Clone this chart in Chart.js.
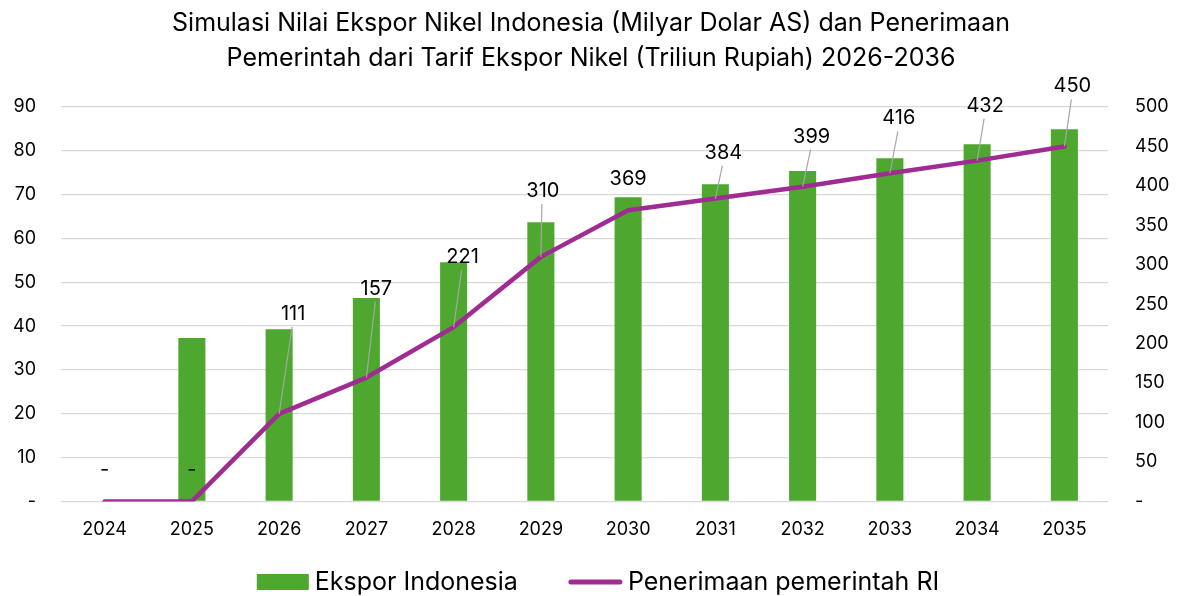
<!DOCTYPE html>
<html>
<head>
<meta charset="utf-8">
<script src="https://cdn.jsdelivr.net/npm/chart.js@4/dist/chart.umd.min.js"></script>
<style>
  html, body { margin: 0; padding: 0; background: #fff; }
  #wrap { width: 1180px; height: 596px; }
</style>
</head>
<body>
<div id="wrap"><canvas id="grafica" width="1180" height="596"></canvas></div>
<script>
// datos
const tahun = ['2024', '2025', '2026', '2027', '2028', '2029', '2030', '2031', '2032', '2033', '2034', '2035'];
const eksporIndonesia = [0, 37.3, 39.3, 46.4, 54.6, 63.7, 69.4, 72.4, 75.4, 78.3, 81.5, 84.9];
const penerimaan = [0, 0, 111, 157, 221, 310, 369, 384, 399, 416, 432, 450];
const judul = ['Simulasi Nilai Ekspor Nikel Indonesia (Milyar Dolar AS) dan Penerimaan', 'Pemerintah dari Tarif Ekspor Nikel (Triliun Rupiah) 2026-2036'];

// desplazamiento de cada etiqueta respecto al punto (px) y si lleva linea guia
const posEtiqueta = [[0, -31], [0, -31], [14, -100], [10, -89], [9, -70], [2, -66], [0, -31], [8, -46], [9, -50], [9, -55], [8, -55], [8, -60]];
const conGuia = [false, false, true, true, true, true, false, true, true, true, true, true];

const fuente = 'Inter, "Open Sans", sans-serif';
const verde = '#4EA72E';
const morado = '#A02B93';

const etiquetas = {
  id: 'etiquetas',
  afterDatasetsDraw(chart) {
    const ctx = chart.ctx;
    const meta = chart.getDatasetMeta(1);
    ctx.save();
    meta.data.forEach((p, i) => {
      const lx = p.x + posEtiqueta[i][0];
      const ly = p.y + posEtiqueta[i][1];
      if (conGuia[i]) {
        ctx.strokeStyle = '#A6A6A6';
        ctx.lineWidth = 1.2;
        ctx.beginPath();
        ctx.moveTo(p.x, p.y);
        ctx.lineTo(lx - 1, ly + 13);
        ctx.stroke();
      }
      ctx.fillStyle = '#000';
      ctx.font = '20px ' + fuente;
      ctx.textAlign = 'center';
      ctx.textBaseline = 'middle';
      const v = penerimaan[i];
      ctx.fillText(v === 0 ? '-' : String(v), lx, ly);
    });
    ctx.restore();
  }
};

// leyenda dibujada a mano para controlar el espaciado
const leyenda = {
  id: 'leyenda',
  afterDraw(chart) {
    const ctx = chart.ctx;
    const nombres = chart.data.datasets.map(d => d.label);
    ctx.save();
    ctx.font = '25px ' + fuente;
    const t1 = ctx.measureText(nombres[0]).width;
    const t2 = ctx.measureText(nombres[1]).width;
    const total = 52 + 6 + t1 + 51 + 53 + 6 + t2;
    let x = chart.width / 2 + 8 - total / 2;
    const y = 582;
    ctx.fillStyle = verde;
    ctx.fillRect(x, y - 8, 52, 16);
    x += 58;
    ctx.fillStyle = '#000';
    ctx.textAlign = 'left';
    ctx.textBaseline = 'middle';
    ctx.fillText(nombres[0], x, y);
    x += t1 + 51;
    ctx.strokeStyle = morado;
    ctx.lineWidth = 5;
    ctx.lineCap = 'round';
    ctx.beginPath();
    ctx.moveTo(x + 2, y);
    ctx.lineTo(x + 51, y);
    ctx.stroke();
    x += 59;
    ctx.fillText(nombres[1], x, y);
    ctx.restore();
  }
};

new Chart(document.getElementById('grafica'), {
  data: {
    labels: tahun,
    datasets: [
      {
        type: 'bar',
        label: 'Ekspor Indonesia',
        data: eksporIndonesia,
        backgroundColor: verde,
        yAxisID: 'y',
        barPercentage: 0.31,
        categoryPercentage: 1,
        order: 2
      },
      {
        type: 'line',
        label: 'Penerimaan pemerintah RI',
        data: penerimaan,
        borderColor: morado,
        backgroundColor: morado,
        borderWidth: 4.5,
        borderCapStyle: 'round',
        borderJoinStyle: 'round',
        pointRadius: 0,
        tension: 0,
        yAxisID: 'y1',
        order: 1
      }
    ]
  },
  options: {
    responsive: false,
    animation: false,
    layout: { padding: { left: 12, right: 10, top: 0, bottom: 47 } },
    plugins: {
      title: {
        display: true,
        text: judul,
        color: '#000',
        font: { family: fuente, size: 25, weight: 'normal', lineHeight: 1.4 },
        padding: { top: 6, bottom: 31 }
      },
      legend: { display: false },
      tooltip: { enabled: false }
    },
    scales: {
      x: {
        grid: { display: false },
        border: { display: false },
        ticks: { color: '#000', font: { family: fuente, size: 18 }, padding: 9 }
      },
      y: {
        position: 'left',
        min: 0,
        max: 90,
        afterFit: s => { s.width = 49; },
        ticks: {
          stepSize: 10,
          color: '#000',
          font: { family: fuente, size: 18 },
          padding: 25,
          callback: v => v === 0 ? '-' : v
        },
        grid: { color: '#D9D9D9', lineWidth: 1.3, drawTicks: false },
        border: { display: false }
      },
      y1: {
        position: 'right',
        min: 0,
        max: 500,
        afterFit: s => { s.width = 62; },
        ticks: {
          stepSize: 50,
          color: '#000',
          font: { family: fuente, size: 18 },
          padding: 27,
          callback: v => v === 0 ? '-' : v
        },
        grid: { display: false, drawTicks: false },
        border: { display: false }
      }
    }
  },
  plugins: [etiquetas, leyenda]
});
</script>
</body>
</html>
